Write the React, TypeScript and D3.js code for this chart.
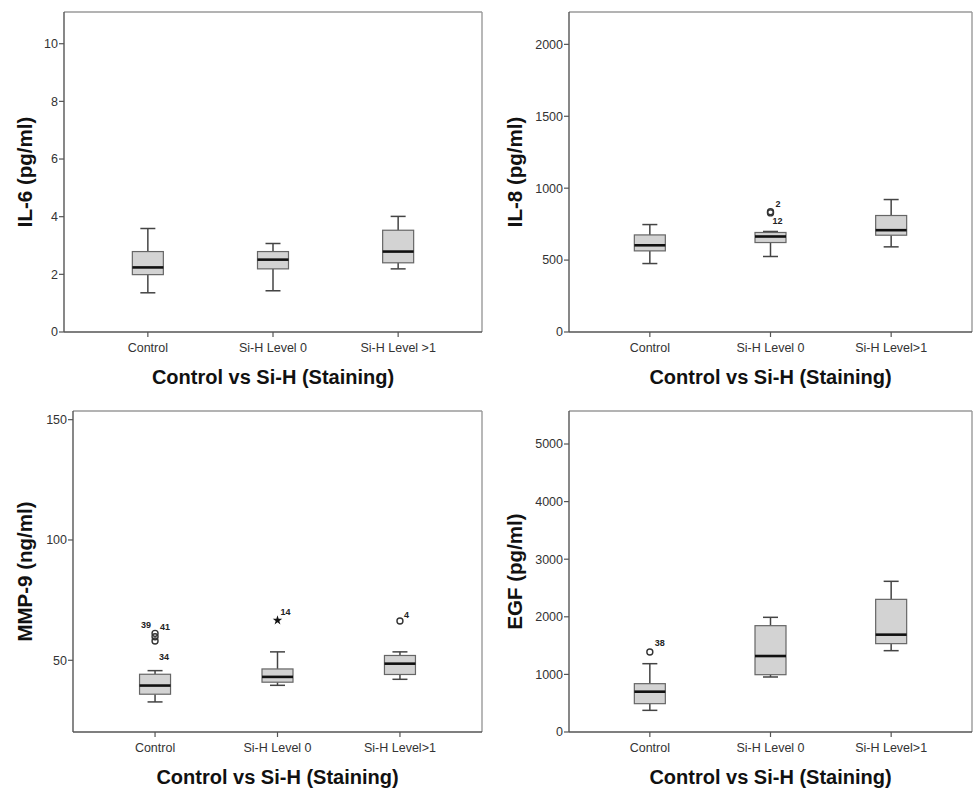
import React from "react";
import * as d3 from "d3";

// ---------- data ----------
const categoriesIL6 = ["Control", "Si-H Level 0", "Si-H Level >1"];
const categories = ["Control", "Si-H Level 0", "Si-H Level>1"];

// [lower whisker, Q1, median, Q3, upper whisker]
const il6Stats = [
  [1.36, 1.99, 2.24, 2.79, 3.59],
  [1.43, 2.19, 2.51, 2.79, 3.07],
  [2.19, 2.4, 2.79, 3.53, 4.01],
];
const il8Stats = [
  [476, 564, 603, 675, 747],
  [525, 622, 664, 692, 699],
  [592, 673, 708, 810, 921],
];
const mmp9Stats = [
  [32.7, 35.9, 39.5, 44.2, 45.7],
  [39.6, 40.9, 43.1, 46.4, 53.5],
  [42.1, 44.1, 48.6, 52.0, 53.5],
];
const egfStats = [
  [376, 492, 700, 839, 1186],
  [955, 995, 1319, 1846, 1991],
  [1412, 1534, 1690, 2303, 2616],
];

const il6Outliers: { group: number; value: number; label: string; mark: string }[] = [];
const il8Outliers = [
  { group: 1, value: 836, label: "2", mark: "circle" },
  { group: 1, value: 828, label: "12", mark: "circle" },
];
const mmp9Outliers = [
  { group: 0, value: 61.2, label: "39", mark: "circle" },
  { group: 0, value: 59.8, label: "41", mark: "circle" },
  { group: 0, value: 58.0, label: "34", mark: "circle" },
  { group: 1, value: 66.6, label: "14", mark: "star" },
  { group: 2, value: 66.3, label: "4", mark: "circle" },
];
const egfOutliers = [{ group: 0, value: 1389, label: "38", mark: "circle" }];

const il6Ticks = [0, 2, 4, 6, 8, 10];
const il8Ticks = [0, 500, 1000, 1500, 2000];
const mmp9Ticks = [50, 100, 150];
const egfTicks = [0, 1000, 2000, 3000, 4000, 5000];

const il6Domain = [0, 11.1];
const il8Domain = [0, 2225];
const mmp9Domain = [20.2, 153.6];
const egfDomain = [0, 5573];

const xTitle = "Control vs Si-H (Staining)";

// label offsets (styling) keyed by label text
const labelOffsets: Record<string, [number, number, string]> = {
  "2": [5, -5, "start"],
  "12": [2, 11, "start"],
  "39": [-4, -5, "end"],
  "41": [5, -7, "start"],
  "34": [4, 19, "start"],
  "14": [3, -5, "start"],
  "4": [4, -3, "start"],
  "38": [5, -6, "start"],
};

const FONT = "'Liberation Sans', Arial, sans-serif";

type PanelProps = {
  left: number;
  top: number;
  right: number;
  bottom: number;
  panelX: number;
  cats: string[];
  stats: number[][];
  outliers: { group: number; value: number; label: string; mark: string }[];
  ticks: number[];
  domain: number[];
  yLabel: string;
};

function Panel(p: PanelProps) {
  const x = d3.scalePoint<string>().domain(p.cats).range([p.left, p.right]).padding(0.67);
  const y = d3.scaleLinear().domain(p.domain).range([p.bottom, p.top]);
  const bw = 31;
  const cap = 15;
  const midY = (p.top + p.bottom) / 2;
  const midX = (p.left + p.right) / 2;
  const star = d3.symbol().type(d3.symbolStar).size(28)();
  return (
    <g>
      {/* frame */}
      <line x1={p.left} x2={p.right} y1={p.top} y2={p.top} stroke="#9a9a9a" strokeWidth={1.4} />
      <line x1={p.right} x2={p.right} y1={p.top} y2={p.bottom} stroke="#9a9a9a" strokeWidth={1.4} />
      <line x1={p.left} x2={p.left} y1={p.top} y2={p.bottom} stroke="#555" strokeWidth={1.4} />
      <line x1={p.left} x2={p.right} y1={p.bottom} y2={p.bottom} stroke="#555" strokeWidth={1.4} />
      {/* y ticks */}
      {p.ticks.map((t) => (
        <g key={t}>
          <line x1={p.left - 5} x2={p.left} y1={y(t)} y2={y(t)} stroke="#555" strokeWidth={1.2} />
          <text x={p.left - 6} y={y(t)} dy="0.35em" textAnchor="end" fontSize={12.5} fill="#333" fontFamily={FONT}>
            {t}
          </text>
        </g>
      ))}
      {/* x ticks */}
      {p.cats.map((c) => (
        <g key={c}>
          <line x1={x(c)} x2={x(c)} y1={p.bottom} y2={p.bottom + 5} stroke="#555" strokeWidth={1.2} />
          <text x={x(c)} y={p.bottom + 20} textAnchor="middle" fontSize={12.5} fill="#333" fontFamily={FONT}>
            {c}
          </text>
        </g>
      ))}
      {/* boxes */}
      {p.stats.map((s, i) => {
        const cx = x(p.cats[i]) as number;
        const [lo, q1, med, q3, hi] = s;
        return (
          <g key={i}>
            <line x1={cx} x2={cx} y1={y(hi)} y2={y(q3)} stroke="#444" strokeWidth={1.5} />
            <line x1={cx} x2={cx} y1={y(q1)} y2={y(lo)} stroke="#444" strokeWidth={1.5} />
            <line x1={cx - cap / 2} x2={cx + cap / 2} y1={y(hi)} y2={y(hi)} stroke="#444" strokeWidth={1.5} />
            <line x1={cx - cap / 2} x2={cx + cap / 2} y1={y(lo)} y2={y(lo)} stroke="#444" strokeWidth={1.5} />
            <rect
              x={cx - bw / 2}
              y={y(q3)}
              width={bw}
              height={y(q1) - y(q3)}
              fill="#d3d3d3"
              stroke="#666"
              strokeWidth={1.2}
            />
            <line x1={cx - bw / 2} x2={cx + bw / 2} y1={y(med)} y2={y(med)} stroke="#111" strokeWidth={2.6} />
          </g>
        );
      })}
      {/* outliers */}
      {p.outliers.map((o, i) => {
        const cx = x(p.cats[o.group]) as number;
        const cy = y(o.value);
        const off = labelOffsets[o.label] || [4, -4, "start"];
        return (
          <g key={i}>
            {o.mark === "star" ? (
              <path d={star as string} transform={`translate(${cx},${cy})`} fill="#111" />
            ) : (
              <circle cx={cx} cy={cy} r={3} fill="none" stroke="#333" strokeWidth={1.4} />
            )}
            <text
              x={cx + off[0]}
              y={cy + off[1]}
              textAnchor={off[2]}
              fontSize={9}
              fontWeight="bold"
              fill="#222"
              fontFamily={FONT}
            >
              {o.label}
            </text>
          </g>
        );
      })}
      {/* axis titles */}
      <text
        transform={`translate(${p.panelX + 25},${midY}) rotate(-90)`}
        textAnchor="middle"
        dy="0.35em"
        fontSize={20.5}
        fontWeight="bold"
        fill="#111"
        fontFamily={FONT}
      >
        {p.yLabel}
      </text>
      <text x={midX} y={p.bottom + 52} textAnchor="middle" fontSize={20} fontWeight="bold" fill="#111" fontFamily={FONT}>
        {xTitle}
      </text>
    </g>
  );
}

export default function App() {
  return (
    <svg
      width={978}
      height={789}
      style={{ position: "absolute", left: 0, top: 0, background: "#fff" }}
      xmlns="http://www.w3.org/2000/svg"
    >
      <rect width={978} height={789} fill="#fff" />
      <Panel left={64} top={12} right={482} bottom={332} panelX={0} cats={categoriesIL6} stats={il6Stats}
        outliers={il6Outliers} ticks={il6Ticks} domain={il6Domain} yLabel="IL-6 (pg/ml)" />
      <Panel left={569} top={12} right={972} bottom={332} panelX={490} cats={categories} stats={il8Stats}
        outliers={il8Outliers} ticks={il8Ticks} domain={il8Domain} yLabel="IL-8 (pg/ml)" />
      <Panel left={73} top={411} right={482} bottom={732} panelX={0} cats={categories} stats={mmp9Stats}
        outliers={mmp9Outliers} ticks={mmp9Ticks} domain={mmp9Domain} yLabel="MMP-9 (ng/ml)" />
      <Panel left={569} top={411} right={972} bottom={732} panelX={490} cats={categories} stats={egfStats}
        outliers={egfOutliers} ticks={egfTicks} domain={egfDomain} yLabel="EGF (pg/ml)" />
    </svg>
  );
}
